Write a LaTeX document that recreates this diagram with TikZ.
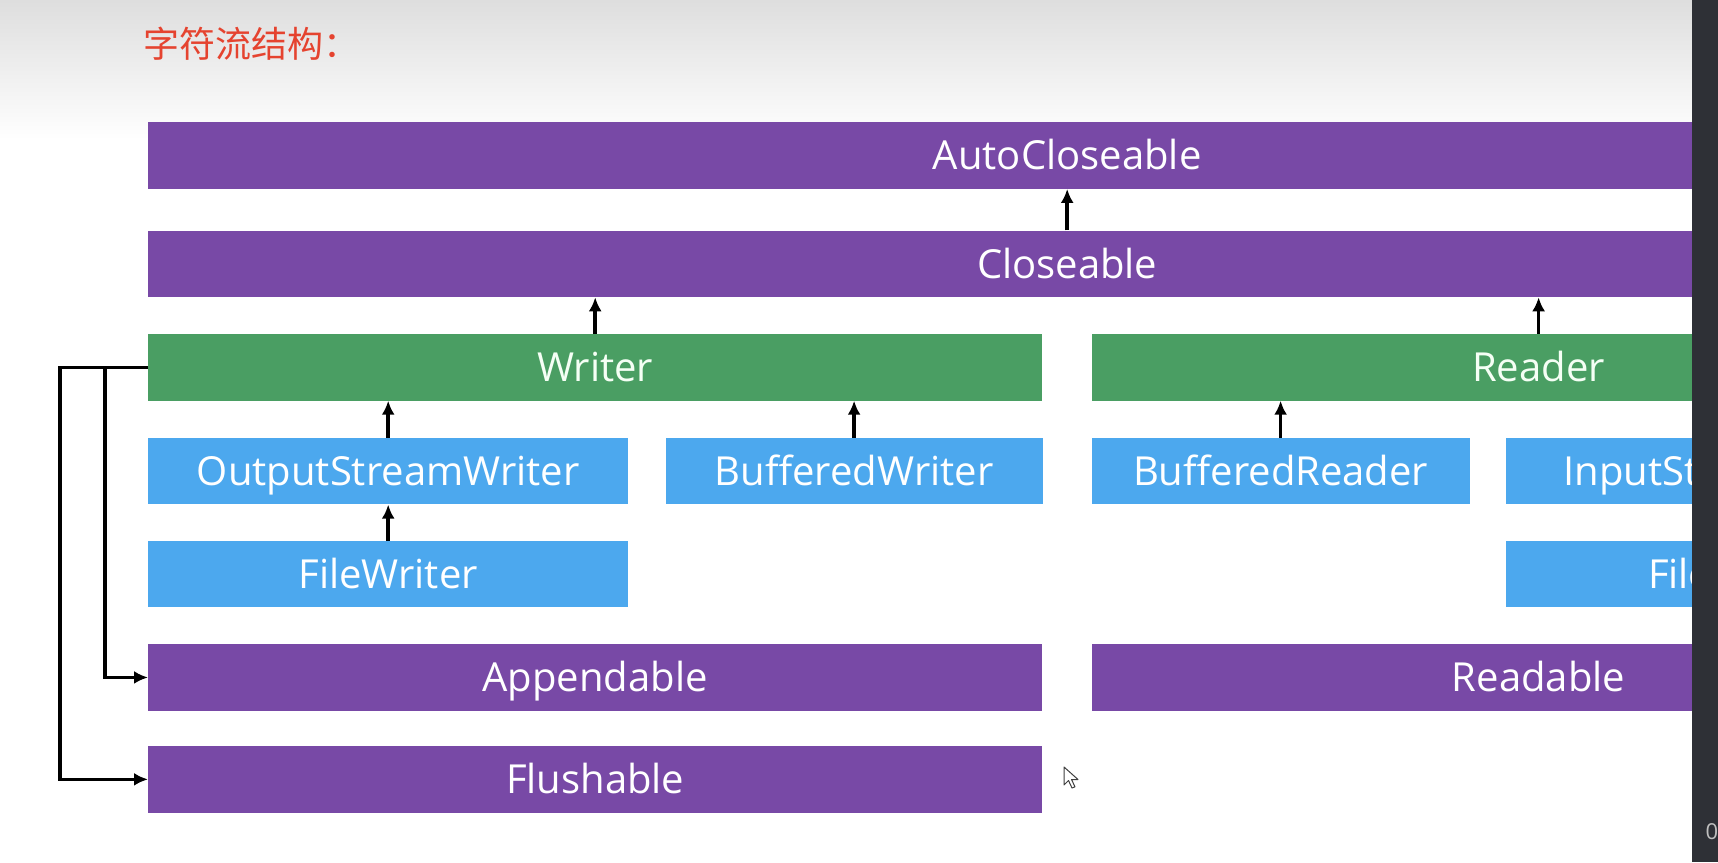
\documentclass[tikz,border=0pt]{standalone}
\usepackage{fontspec}
\setmainfont{Open Sans}
\newfontfamily\cjk{Noto Sans CJK SC}
\usetikzlibrary{arrows.meta,positioning}
\definecolor{ifpurple}{HTML}{7849A6}
\definecolor{absgreen}{HTML}{4A9E63}
\definecolor{implblue}{HTML}{4CA8EE}
\definecolor{titlered}{HTML}{E5432F}
\definecolor{sidebar}{HTML}{2E3036}

\begin{document}
\begin{tikzpicture}[
  x=1pt, y=-1pt, >={Latex[length=14pt,width=13pt]},
  font=\fontsize{40}{48}\selectfont,
  box/.style={rectangle, minimum height=66.5pt, inner sep=0pt,
    text height=28.6pt, text depth=0pt, text=white},
  iface/.style={box, fill=ifpurple},
  absbox/.style={box, fill=absgreen, text=green!4},
  impl/.style={box, fill=implblue},
  link/.style={->, line width=3.5pt},
]
  \useasboundingbox (0,0) rectangle (1718,862);
  \clip (0,0) rectangle (1718,862);
  \fill[white] (0,0) rectangle (1718,862);
  \shade[top color=black!13, bottom color=white] (0,0) rectangle (1692,140);

  \node[anchor=west, text=titlered, font=\cjk\fontsize{36}{42}\selectfont]
    (title) at (140,44) {字符流结构：};

  \node[iface, minimum width=1838pt, anchor=north west] (auto) at (148,122) {AutoCloseable};
  \node[iface, minimum width=1838pt, below=41.5pt of auto.south west, anchor=north west] (close) {Closeable};

  \node[absbox, minimum width=894pt, below=36.5pt of close.south west, anchor=north west] (writer) {Writer};
  \node[absbox, minimum width=894pt, right=49pt of writer.north east, anchor=north west] (reader) {Reader};

  \node[impl, minimum width=480pt, below=37pt of writer.south west, anchor=north west] (osw) {OutputStreamWriter};
  \node[impl, minimum width=377pt, right=37pt of osw.north east, anchor=north west] (bw) {BufferedWriter};
  \node[impl, minimum width=378pt, below=37pt of reader.south west, anchor=north west] (br) {BufferedReader};
  \node[impl, minimum width=480pt, right=36pt of br.north east, anchor=north west] (isr) {InputStreamReader};

  \node[impl, minimum width=480pt, below=36pt of osw.south west, anchor=north west] (fw) {FileWriter};
  \node[impl, minimum width=480pt, below=36pt of isr.south west, anchor=north west] (fr) {FileReader};

  \node[iface, minimum width=894pt, below=36.5pt of fw.south west, anchor=north west] (append) {Appendable};
  \node[iface, minimum width=894pt, right=49pt of append.north east, anchor=north west] (readable) {Readable};
  \node[iface, minimum width=894pt, below=35pt of append.south west, anchor=north west] (flush) {Flushable};

  \draw[link] (close) -- (auto);
  \draw[link] (writer) -- (writer |- close.south);
  \draw[link] (reader) -- (reader |- close.south);
  \draw[link] (osw) -- (osw |- writer.south);
  \draw[link] (bw) -- (bw |- writer.south);
  \draw[link] (fw) -- (osw);
  \draw[link] (br) -- (br |- reader.south);

  \draw[link] (writer.west) -- ++(-43,0) |- (append.west);
  \draw[link] (writer.west) -- ++(-88,0) |- (flush.west);

  \draw[fill=white, draw=black!75, line width=1pt, line join=round]
    (1064,767) -- (1064,785) -- (1068.5,780.5) -- (1072,788) -- (1075,786.8)
    -- (1071.5,779.5) -- (1078,779.5) -- cycle;

  \fill[sidebar] (1692,0) rectangle (1718,862);
  \node[text=black!25, font=\fontsize{22}{26}\selectfont] (pagenum) at (1712,832) {0};
\end{tikzpicture}
\end{document}
